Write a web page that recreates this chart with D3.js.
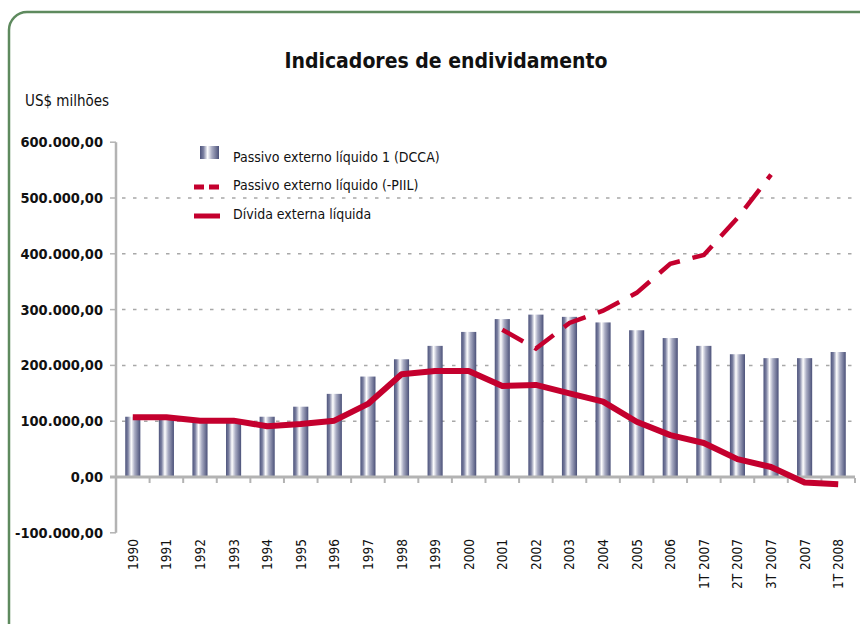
<!DOCTYPE html>
<html>
<head>
<meta charset="utf-8">
<script src="https://cdn.jsdelivr.net/npm/d3@7"></script>
<style>
  body { margin: 0; background: #fff; }
  svg { display: block; }
  text { font-family: "DejaVu Sans Condensed", "Liberation Sans Narrow", sans-serif; fill: #111; }
</style>
</head>
<body>
<div id="chart"></div>
<script>
// categorias do eixo x
var categorias = ["1990","1991","1992","1993","1994","1995","1996","1997","1998","1999",
  "2000","2001","2002","2003","2004","2005","2006","1T 2007","2T 2007","3T 2007","2007","1T 2008"];

// Passivo externo líquido 1 (DCCA) - barras
var passivoDcca = [108000,107000,100000,100000,108000,126000,149000,180000,211000,235000,
  260000,283000,291000,287000,277000,263000,249000,235000,220000,213000,213000,224000];

// Passivo externo líquido (-PIIL) - tracejada, só a partir de 2001
var passivoPiil = [null,null,null,null,null,null,null,null,null,null,
  null,264000,230000,276000,298000,330000,382000,398000,464000,542000,null,null];

// Dívida externa líquida - linha cheia
var dividaLiquida = [107000,107000,101000,101000,91000,95000,101000,131000,184000,190000,
  190000,163000,165000,150000,135000,99000,75000,61000,32000,18000,-10000,-13000];

var yTicks = [-100000,0,100000,200000,300000,400000,500000,600000];
var gridTicks = [100000,200000,300000,400000,500000];

var width = 860, height = 624;
var red = "#c4002e", gray = "#b3b3b3";

var svg = d3.select("#chart").append("svg")
  .attr("width", width)
  .attr("height", height);

// moldura verde arredondada
svg.append("rect")
  .attr("x", 9).attr("y", 12)
  .attr("width", 880).attr("height", 640)
  .attr("rx", 18)
  .style("fill", "none")
  .style("stroke", "#5e8a5e")
  .style("stroke-width", 2.5);

var x = d3.scaleBand()
  .domain(categorias)
  .range([116, 855])
  .paddingInner(0.55)
  .paddingOuter(0.275);

var y = d3.scaleLinear()
  .domain([-100000, 600000])
  .range([532.8, 142.2]);

// gradiente das barras (efeito cilindro)
var grad = svg.append("defs").append("linearGradient")
  .attr("id", "cil")
  .attr("x1", "0%").attr("x2", "100%")
  .attr("y1", "0%").attr("y2", "0%");
[["0%","#4e547c"],["18%","#7a7fa0"],["40%","#ffffff"],["62%","#a9acc3"],["100%","#4b5179"]]
  .forEach(function(s){ grad.append("stop").attr("offset", s[0]).attr("stop-color", s[1]); });

// título
svg.append("text")
  .attr("x", 446).attr("y", 68)
  .attr("text-anchor", "middle")
  .style("font-size", "21px")
  .style("font-weight", "bold")
  .text("Indicadores de endividamento");

svg.append("text")
  .attr("x", 25).attr("y", 106)
  .style("font-size", "15px")
  .text("US$ milhões");

// grades pontilhadas
svg.selectAll(".grid")
  .data(gridTicks)
  .enter().append("line")
  .attr("class", "grid")
  .attr("x1", 122).attr("x2", 855)
  .attr("y1", function(d){ return y(d); })
  .attr("y2", function(d){ return y(d); })
  .style("stroke", "#a8a8a8")
  .style("stroke-width", 1.5)
  .style("stroke-dasharray", "3.5,7.5");

// eixo y
svg.append("line")
  .attr("x1", 116).attr("x2", 116)
  .attr("y1", y(600000)).attr("y2", y(-100000))
  .style("stroke", gray).style("stroke-width", 2.5);

svg.selectAll(".ytick")
  .data(yTicks)
  .enter().append("line")
  .attr("x1", 110).attr("x2", 116)
  .attr("y1", function(d){ return y(d); })
  .attr("y2", function(d){ return y(d); })
  .style("stroke", gray).style("stroke-width", 1.5);

var fmt = function(v){
  var s = d3.format(",.2f")(v);
  return s.replace(/,/g, "#").replace(/\./g, ",").replace(/#/g, ".").replace("−", "-");
};

svg.selectAll(".ylab")
  .data(yTicks)
  .enter().append("text")
  .attr("x", 103)
  .attr("y", function(d){ return y(d); })
  .attr("dy", "0.35em")
  .attr("text-anchor", "end")
  .style("font-size", "14.5px")
  .style("font-weight", "bold")
  .text(fmt);

// barras
svg.selectAll(".bar")
  .data(passivoDcca)
  .enter().append("rect")
  .attr("x", function(d, i){ return x(categorias[i]); })
  .attr("width", x.bandwidth())
  .attr("y", function(d){ return y(d); })
  .attr("height", function(d){ return y(0) - y(d); })
  .style("fill", "url(#cil)");

// linha do zero e marcas
svg.append("line")
  .attr("x1", 110).attr("x2", 855)
  .attr("y1", y(0)).attr("y2", y(0))
  .style("stroke", gray).style("stroke-width", 3);

var step = x.step();
svg.selectAll(".xtick")
  .data(d3.range(1, categorias.length + 1))
  .enter().append("line")
  .attr("x1", function(k){ return 116 + k * step; })
  .attr("x2", function(k){ return 116 + k * step; })
  .attr("y1", y(0) + 1).attr("y2", y(0) + 6)
  .style("stroke", gray).style("stroke-width", 2);

// rótulos x verticais
svg.selectAll(".xlab")
  .data(categorias)
  .enter().append("text")
  .attr("transform", function(d){
    return "translate(" + (x(d) + x.bandwidth() / 2 + 5) + ",539) rotate(-90)";
  })
  .attr("text-anchor", "end")
  .style("font-size", "13.5px")
  .text(function(d){ return d; });

var idx = function(d, i){ return x(categorias[i]) + x.bandwidth() / 2; };

var lineDivida = d3.line()
  .x(idx)
  .y(function(d){ return y(d); });

svg.append("path")
  .datum(dividaLiquida)
  .attr("d", lineDivida)
  .style("fill", "none")
  .style("stroke", red)
  .style("stroke-width", 6)
  .style("stroke-linejoin", "round");

var linePiil = d3.line()
  .defined(function(d){ return d !== null; })
  .x(idx)
  .y(function(d){ return y(d); });

svg.append("path")
  .datum(passivoPiil)
  .attr("d", linePiil)
  .style("fill", "none")
  .style("stroke", red)
  .style("stroke-width", 4.5)
  .style("stroke-dasharray", "24,13");

// legenda
var lg = svg.append("g");
lg.append("rect")
  .attr("x", 200).attr("y", 146)
  .attr("width", 19).attr("height", 13)
  .style("fill", "url(#cil)");
lg.append("line")
  .attr("x1", 194).attr("x2", 220)
  .attr("y1", 187).attr("y2", 187)
  .style("stroke", red).style("stroke-width", 5)
  .style("stroke-dasharray", "10,5");
lg.append("line")
  .attr("x1", 194).attr("x2", 220)
  .attr("y1", 216).attr("y2", 216)
  .style("stroke", red).style("stroke-width", 5);

var legendas = ["Passivo externo líquido 1 (DCCA)", "Passivo externo líquido (-PIIL)", "Dívida externa líquida"];
lg.selectAll(".lt")
  .data(legendas)
  .enter().append("text")
  .attr("x", 233)
  .attr("y", function(d, i){ return 157 + i * 28.5; })
  .attr("dy", "0.35em")
  .style("font-size", "14px")
  .text(function(d){ return d; });
</script>
</body>
</html>
